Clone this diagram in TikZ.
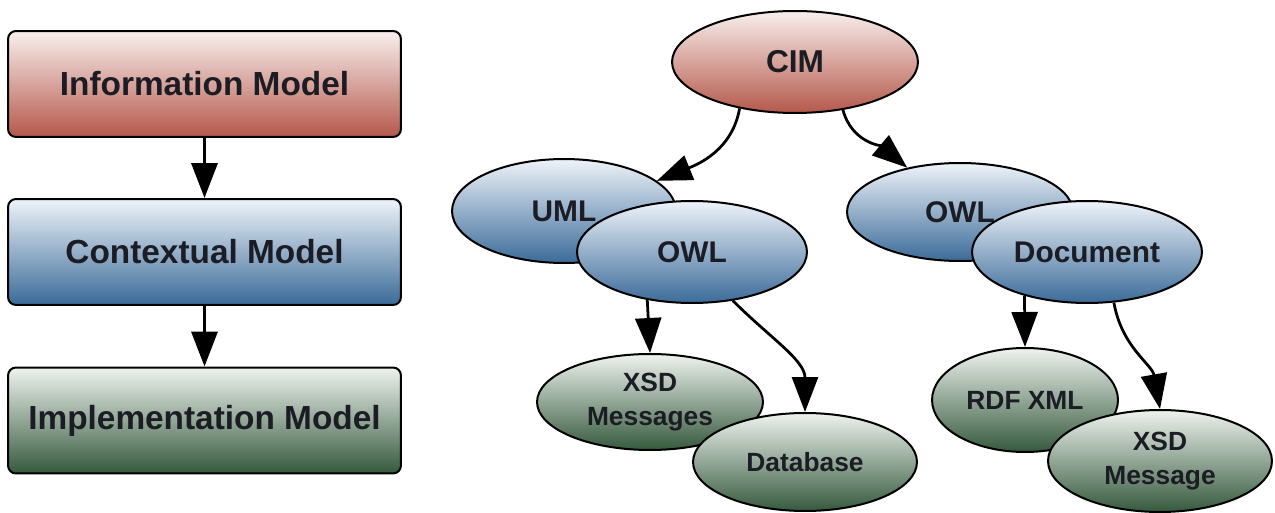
\documentclass[tikz,border=0pt]{standalone}
\usepackage{fontspec}
\setmainfont{Liberation Sans}
\usetikzlibrary{shapes.geometric, arrows.meta}

\definecolor{redtop}{HTML}{F8EFED}
\definecolor{redbot}{HTML}{B5584B}
\definecolor{bluetop}{HTML}{EEF3F9}
\definecolor{bluebot}{HTML}{3B6B99}
\definecolor{greentop}{HTML}{EEF3EE}
\definecolor{greenbot}{HTML}{35593D}
\definecolor{inktext}{HTML}{1C1C24}

\tikzset{
	redfill/.style={top color=redtop, bottom color=redbot},
	bluefill/.style={top color=bluetop, bottom color=bluebot},
	greenfill/.style={top color=greentop, bottom color=greenbot},
	modelbox/.style={draw, rounded corners=0.16cm, minimum width=7.86cm, minimum height=2.12cm,
		font=\fontsize{19}{22}\selectfont\bfseries},
	blob/.style 2 args={draw, ellipse, inner sep=1pt, align=center, minimum width=#1, minimum height=#2}
}

\begin{document}
\begin{tikzpicture}[x=0.02cm, y=-0.02cm, line width=0.04cm, text=inktext,
	>={Triangle[length=0.7cm, width=0.52cm]}]
	\useasboundingbox (0,0) rectangle (1275,513);

	\begin{scope}[every node/.style={modelbox}]
		\node[redfill] (infomodel) at (204.5,84) {Information Model};
		\node[bluefill] (ctxmodel) at (204.5,252) {Contextual Model};
		\node[greenfill] (implmodel) at (204.5,420.5) {Implementation Model};
	\end{scope}

	\begin{scope}[every node/.style={font=\fontsize{17}{21}\selectfont\bfseries}]
		\node[blob={4.92cm}{2.04cm}, redfill, font=\fontsize{18}{21}\selectfont\bfseries] (cim) at (795,62) {CIM};

		\node[blob={4.48cm}{2.08cm}, bluefill] (uml) at (564,211) {UML};
		\node[blob={4.6cm}{2.04cm}, bluefill] (owl1) at (692,252) {OWL};
		\node[blob={4.52cm}{1.96cm}, bluefill] (owl2) at (960,212) {OWL};
		\node[blob={4.6cm}{2.04cm}, bluefill] (doc) at (1087,252) {Document};
	\end{scope}

	\begin{scope}[every node/.style={font=\fontsize{15}{19}\selectfont\bfseries}]
		\node[blob={4.52cm}{1.92cm}, greenfill] (xsd1) at (650,402) {XSD\\Messages};
		\node[blob={4.48cm}{1.96cm}, greenfill] (db) at (805,462) {Database};
		\node[blob={3.72cm}{2.08cm}, greenfill] (rdf) at (1025,400) {RDF XML};
		\node[blob={4.48cm}{2.04cm}, greenfill] (xsd2) at (1160,461) {XSD\\Message};
	\end{scope}

	\begin{scope}[line width=0.055cm]
		\path[->, line width=0.07cm] (infomodel) edge (ctxmodel);
		\path[->, line width=0.07cm] (ctxmodel) edge (implmodel);

		\path[->] (cim.-140) edge[out=-100, in=22] (uml.18);
		\path[->] (cim.-45) edge[out=-75, in=140] (owl2.140);

		\path[->] (owl1.-133) edge (xsd1.north);
		\path[->] (owl1.-50) edge[out=-45, in=90] (db.north);

		\path[->] (doc.-145) edge (rdf.north);
		\path[->] (doc.-62) edge[out=-80, in=100] (xsd2.north);
	\end{scope}
\end{tikzpicture}
\end{document}
